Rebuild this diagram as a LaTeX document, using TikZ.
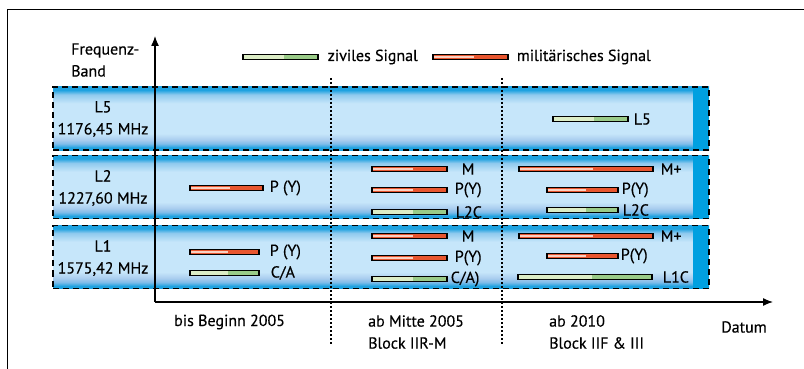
\documentclass[tikz,border=0pt]{standalone}
\usepackage{fontspec}
\setmainfont{PT Sans}[FakeBold=0.4]
\usetikzlibrary{arrows.meta,calc,positioning}

\definecolor{bandlight}{HTML}{C6E6FA}
\definecolor{bandedge}{HTML}{1FA2E0}
\definecolor{bandmid}{HTML}{7FBCEA}
\definecolor{bandlav}{HTML}{A8CCEE}
\definecolor{bandtop}{HTML}{8FCAEE}
\definecolor{bandbar}{HTML}{00A0E0}
\definecolor{milred}{HTML}{E8562F}
\definecolor{milpale}{HTML}{FAD0C0}
\definecolor{civgreen}{HTML}{9ACB88}
\definecolor{civpale}{HTML}{DCEDC6}

\pgfdeclareverticalshading{bandshade}{100bp}{%
  color(0bp)=(bandedge); color(25bp)=(bandedge); color(27bp)=(bandedge);
  color(30bp)=(bandmid); color(33bp)=(bandlav); color(38bp)=(bandlight);
  color(62bp)=(bandlight); color(69bp)=(bandtop); color(72.5bp)=(bandedge);
  color(75bp)=(bandedge); color(100bp)=(bandedge)}

\begin{document}
\begin{tikzpicture}[
  x=1pt, y=-1pt,
  font=\fontsize{16}{22}\selectfont,
  band/.style={draw=black, line width=1.7pt, dash pattern=on 6pt off 4pt,
    shading=bandshade, inner sep=0pt, minimum width=656, minimum height=63,
    path picture={\fill[bandbar] ([xshift=-16pt]path picture bounding box.north east)
      rectangle (path picture bounding box.south east);}},
  bandlabel/.style={align=center, inner sep=0pt},
  milsig/.style={draw=black, line width=1.2pt, fill=milred, inner sep=0pt, minimum height=4.5,
    path picture={\draw[milpale, line width=1.4pt] ([xshift=1pt]path picture bounding box.west)
      -- ($(path picture bounding box.west)!0.55!(path picture bounding box.east)$);}},
  civsig/.style={draw=black, line width=1.2pt, fill=civgreen, inner sep=0pt, minimum height=4.5,
    path picture={\fill[civpale] (path picture bounding box.south west)
      rectangle ($(path picture bounding box.north west)!0.55!(path picture bounding box.north east)$);}},
  siglabel/.style={inner sep=0pt, anchor=west},
  axisarrow/.style={-{Latex[length=10pt,width=8pt]}, line width=1.3pt},
  divider/.style={line width=1.7pt, dash pattern=on 1.7pt off 2.3pt},
]
\useasboundingbox (0,0) rectangle (804,369);

%% ---- frame ----
\draw[line width=1pt] (7,369) -- (7,10) -- (804,10);

%% ---- legend ----
\node[civsig, minimum width=75] (legciv) at (280.5,57) {};
\node[siglabel, right=9pt of legciv] {ziviles Signal};
\node[milsig, minimum width=75] (legmil) at (470.5,57) {};
\node[siglabel, right=8pt of legmil] {militärisches Signal};

%% ---- bands ----
\node[band] (l5) at (381,118.5) {};
\node[band] (l2) at (381,187) {};
\node[band] (l1) at (381,257) {};

\node[bandlabel] at (103,119) {L5\\1176,45 MHz};
\node[bandlabel] at (103,188) {L2\\1227,60 MHz};
\node[bandlabel] at (103,258) {L1\\1575,42 MHz};

%% ---- period dividers ----
\coordinate (d1top) at (331,78);
\coordinate (d1bot) at (331,345);
\coordinate (d2top) at (502,78);
\coordinate (d2bot) at (502,345);
\draw[divider] (d1top) -- (d1bot);
\draw[divider] (d2top) -- (d2bot);

%% ---- until 2005 ----
\node[milsig, minimum width=73] (a2py) at (226.5,188) {};
\node[siglabel, right=6pt of a2py] {P (Y)};
\node[milsig, minimum width=69] (a1py) at (224.5,252) {};
\node[siglabel, right=10pt of a1py] {P (Y)};
\node[civsig, minimum width=69] (a1ca) at (224.5,273) {};
\node[siglabel, right=11pt of a1ca] {C/A};

%% ---- from mid 2005 ----
\node[milsig, minimum width=75] (b2m) at (409.5,169) {};
\node[siglabel, right=14pt of b2m] {M};
\node[milsig, minimum width=75] (b2py) at (409.5,190) {};
\node[siglabel, right=7pt of b2py] {P(Y)};
\node[civsig, minimum width=75] (b2c) at (409.5,212) {};
\node[siglabel, right=8pt of b2c] {L2C};
\node[milsig, minimum width=75] (b1m) at (409.5,236) {};
\node[siglabel, right=14pt of b1m] {M};
\node[milsig, minimum width=75] (b1py) at (409.5,258) {};
\node[siglabel, right=7pt of b1py] {P(Y)};
\node[civsig, minimum width=75] (b1ca) at (409.5,279) {};
\node[siglabel, right=3pt of b1ca] {C/A)};

%% ---- from 2010 ----
\node[civsig, minimum width=75] (c5) at (590.5,119) {};
\node[siglabel, right=5pt of c5] {L5};
\node[milsig, minimum width=134] (c2m) at (586,169) {};
\node[siglabel, right=7pt of c2m] {M+};
\node[milsig, minimum width=71] (c2py) at (582.5,190) {};
\node[siglabel, right=3pt of c2py] {P(Y)};
\node[civsig, minimum width=71] (c2c) at (582.5,210) {};
\node[siglabel, right=4pt of c2c] {L2C};
\node[milsig, minimum width=134] (c1m) at (586,236) {};
\node[siglabel, right=7pt of c1m] {M+};
\node[milsig, minimum width=71] (c1py) at (582.5,256) {};
\node[siglabel, right=2pt of c1py] {P(Y)};
\node[civsig, minimum width=134] (c1c) at (585,277) {};
\node[siglabel, right=10pt of c1c] {L1C};

%% ---- axes ----
\coordinate (origin) at (155,302);
\coordinate (ytip) at (155,36);
\coordinate (xtip) at (773,302);
\draw[axisarrow] (origin) -- (ytip);
\draw[axisarrow] (origin) -- (xtip);

\node[align=left, anchor=west, inner sep=0pt] (ylab) at (71,60) {Frequenz-\\Band};
\node[inner sep=0pt] (xlab) at (744,327) {Datum};

\node[align=left, anchor=west, inner sep=0pt] (p1) at (174,322) {bis Beginn 2005};
\node[align=left, anchor=west, inner sep=0pt] (p2) at (368,332) {ab Mitte 2005\\Block IIR-M};
\node[align=left, anchor=west, inner sep=0pt] (p3) at (549,332) {ab 2010\\Block IIF \& III};

\end{tikzpicture}
\end{document}
